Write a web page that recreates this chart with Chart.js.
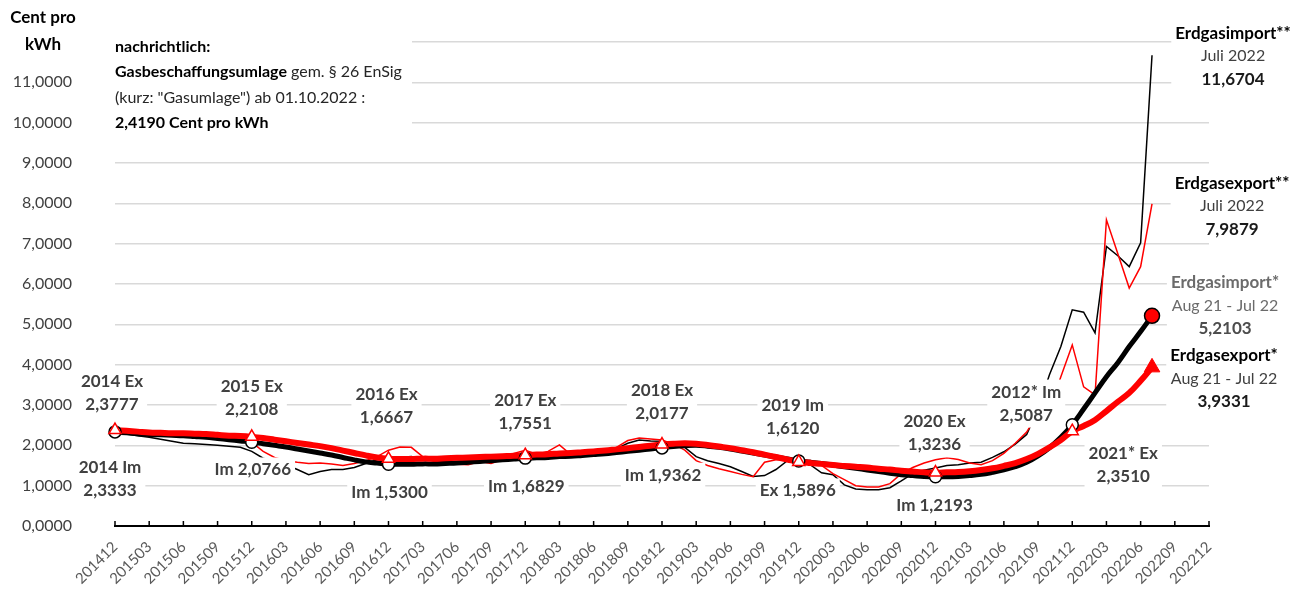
<!DOCTYPE html>
<html>
<head>
<meta charset="utf-8">
<script src="https://cdn.jsdelivr.net/npm/chart.js@4.4.1/dist/chart.umd.min.js"></script>
<style>
  html, body { margin: 0; padding: 0; background: #fff; }
  #wrap { width: 1308px; height: 597px; position: relative; }
</style>
</head>
<body>
<div id="wrap"><canvas id="gasChart"></canvas></div>
<script>
const FONT = 'Lato, "Open Sans", sans-serif';

// x-Achse: Monate 201412 ... 202212
const monthLabels = [
  '201412',
  '201501', '201502', '201503', '201504', '201505', '201506', '201507', '201508', '201509', '201510', '201511', '201512',
  '201601', '201602', '201603', '201604', '201605', '201606', '201607', '201608', '201609', '201610', '201611', '201612',
  '201701', '201702', '201703', '201704', '201705', '201706', '201707', '201708', '201709', '201710', '201711', '201712',
  '201801', '201802', '201803', '201804', '201805', '201806', '201807', '201808', '201809', '201810', '201811', '201812',
  '201901', '201902', '201903', '201904', '201905', '201906', '201907', '201908', '201909', '201910', '201911', '201912',
  '202001', '202002', '202003', '202004', '202005', '202006', '202007', '202008', '202009', '202010', '202011', '202012',
  '202101', '202102', '202103', '202104', '202105', '202106', '202107', '202108', '202109', '202110', '202111', '202112',
  '202201', '202202', '202203', '202204', '202205', '202206', '202207', '202208', '202209', '202210', '202211', '202212',
];

// Monatswerte (Cent pro kWh), 201412 bis 202207
const importMonthly = [
  2.33, 2.28, 2.24, 2.20, 2.15, 2.10, 2.05, 2.04, 2.02, 2.00, 1.98, 1.95,
  1.85, 1.68, 1.60, 1.52, 1.40, 1.27, 1.35, 1.40, 1.40, 1.45, 1.55, 1.64,
  1.67, 1.70, 1.72, 1.66, 1.62, 1.60, 1.60, 1.62, 1.64, 1.62, 1.63, 1.64,
  1.66, 1.74, 1.81, 1.76, 1.72, 1.80, 1.88, 1.85, 1.92, 2.05, 2.13, 2.11,
  2.10, 2.06, 1.95, 1.72, 1.62, 1.55, 1.47, 1.35, 1.23, 1.25, 1.40, 1.62,
  1.60, 1.52, 1.32, 1.27, 1.02, 0.92, 0.90, 0.90, 0.95, 1.12, 1.30, 1.38,
  1.44, 1.50, 1.52, 1.56, 1.58, 1.70, 1.84, 2.03, 2.27, 2.90, 3.75, 4.45,
  5.36, 5.30, 4.79, 6.93, 6.70, 6.43, 7.02, 11.6704,
];
const exportMonthly = [
  2.38, 2.35, 2.33, 2.32, 2.30, 2.29, 2.28, 2.27, 2.25, 2.22, 2.18, 2.14,
  2.08, 1.85, 1.70, 1.62, 1.58, 1.55, 1.56, 1.54, 1.50, 1.55, 1.62, 1.72,
  1.88, 1.96, 1.95, 1.72, 1.60, 1.56, 1.53, 1.52, 1.60, 1.55, 1.65, 1.80,
  1.88, 1.78, 1.85, 2.01, 1.77, 1.85, 1.89, 1.85, 1.95, 2.12, 2.18, 2.16,
  2.13, 2.03, 1.88, 1.62, 1.50, 1.42, 1.35, 1.28, 1.22, 1.58, 1.64, 1.64,
  1.64, 1.63, 1.50, 1.30, 1.15, 1.00, 0.97, 0.97, 1.05, 1.30, 1.45, 1.56,
  1.64, 1.69, 1.65, 1.56, 1.52, 1.62, 1.80, 2.05, 2.33, 2.80, 2.90, 3.70,
  4.49, 3.45, 3.25, 7.59, 6.75, 5.90, 6.43, 7.9879,
];

// gleitende 12-Monats-Mittel
const import12m = [
  2.33, 2.31, 2.29, 2.27, 2.26, 2.25, 2.24, 2.22, 2.20, 2.17, 2.14, 2.11,
  2.08, 2.04, 2.00, 1.96, 1.91, 1.86, 1.81, 1.76, 1.70, 1.64, 1.59, 1.56,
  1.53, 1.53, 1.53, 1.54, 1.54, 1.55, 1.56, 1.58, 1.60, 1.62, 1.64, 1.66,
  1.68, 1.69, 1.70, 1.72, 1.73, 1.75, 1.77, 1.79, 1.82, 1.85, 1.88, 1.91,
  1.94, 1.97, 1.99, 2.00, 1.98, 1.95, 1.91, 1.86, 1.81, 1.76, 1.71, 1.66,
  1.61, 1.58, 1.55, 1.51, 1.47, 1.43, 1.39, 1.35, 1.31, 1.27, 1.25, 1.23,
  1.22, 1.22, 1.23, 1.25, 1.28, 1.33, 1.39, 1.47, 1.58, 1.74, 1.94, 2.20,
  2.51, 2.90, 3.30, 3.70, 4.05, 4.45, 4.82, 5.2103,
];
const export12m = [
  2.38, 2.36, 2.34, 2.32, 2.31, 2.30, 2.30, 2.29, 2.28, 2.26, 2.24, 2.23,
  2.21, 2.18, 2.14, 2.10, 2.06, 2.02, 1.98, 1.93, 1.87, 1.81, 1.75, 1.70,
  1.67, 1.66, 1.66, 1.67, 1.67, 1.68, 1.69, 1.70, 1.71, 1.72, 1.73, 1.74,
  1.76, 1.77, 1.78, 1.80, 1.81, 1.83, 1.85, 1.87, 1.90, 1.93, 1.96, 1.99,
  2.02, 2.04, 2.05, 2.04, 2.01, 1.97, 1.93, 1.88, 1.83, 1.77, 1.71, 1.65,
  1.59, 1.56, 1.54, 1.51, 1.49, 1.47, 1.45, 1.42, 1.40, 1.37, 1.35, 1.33,
  1.32, 1.33, 1.34, 1.36, 1.39, 1.43, 1.49, 1.56, 1.66, 1.79, 1.95, 2.13,
  2.35, 2.48, 2.63, 2.85, 3.08, 3.30, 3.60, 3.9331,
];

// Jahreswerte (markiert im Dezember)
const annualMonths = ['201412', '201512', '201612', '201712', '201812', '201912', '202012', '202112'];
const importAnnual = [2.3333, 2.0766, 1.5300, 1.6829, 1.9362, 1.6120, 1.2193, 2.5087];
const exportAnnual = [2.3777, 2.2108, 1.6667, 1.7551, 2.0177, 1.5896, 1.3236, 2.3510];
const lastMonth = ['202207'];
const importLast = [5.2103];
const exportLast = [3.9331];

const yTicks = [0, 1, 2, 3, 4, 5, 6, 7, 8, 9, 10, 11];

// Textstile
const ANN = { font: 'bold 17px ' + FONT, color: '#404040' };
const HEAD = { font: 'bold 17px ' + FONT, color: '#000000' };
const SUB = { font: '16px ' + FONT, color: '#404040' };
const VAL = { font: 'bold 17px ' + FONT, color: '#1a1a1a' };
const GHEAD = { font: 'bold 17px ' + FONT, color: '#6b6b6b' };
const GSUB = { font: '16px ' + FONT, color: '#6b6b6b' };
const GVAL = { font: 'bold 17px ' + FONT, color: '#4d4d4d' };

// Beschriftungen: Monat + Versatz (px), v = Höhe der ersten Zeile in Achsenwerten
const notes = [
  { at: '201412', dx: -3, v: 3.57, lines: [['2014 Ex', ANN], ['2,3777', ANN]] },
  { at: '201412', dx: -5, v: 1.44, lines: [['2014 Im', ANN], ['2,3333', ANN]] },
  { at: '201512', dx: 0, v: 3.47, lines: [['2015 Ex', ANN], ['2,2108', ANN]] },
  { at: '201512', dx: 1, v: 1.39, lines: [['Im 2,0766', ANN]] },
  { at: '201612', dx: -2, v: 3.25, lines: [['2016 Ex', ANN], ['1,6667', ANN]] },
  { at: '201612', dx: 1, v: 0.82, lines: [['Im 1,5300', ANN]] },
  { at: '201712', dx: 0, v: 3.12, lines: [['2017 Ex', ANN], ['1,7551', ANN]] },
  { at: '201712', dx: 1, v: 0.99, lines: [['Im 1,6829', ANN]] },
  { at: '201812', dx: 0, v: 3.37, lines: [['2018 Ex', ANN], ['2,0177', ANN]] },
  { at: '201812', dx: 1, v: 1.26, lines: [['Im 1,9362', ANN]] },
  { at: '201912', dx: -6, v: 2.98, lines: [['2019 Im', ANN], ['1,6120', ANN]] },
  { at: '201912', dx: -1, v: 0.87, lines: [['Ex 1,5896', ANN]] },
  { at: '202012', dx: -1, v: 2.58, lines: [['2020 Ex', ANN], ['1,3236', ANN]] },
  { at: '202012', dx: -1, v: 0.52, lines: [['Im 1,2193', ANN]] },
  { at: '202112', dx: -46, v: 3.32, lines: [['2012* Im', ANN], ['2,5087', ANN]] },
  { at: '202112', dx: 51, v: 1.79, lines: [['2021* Ex', ANN], ['2,3510', ANN]] },
  { at: '202207', dx: 81, v: 12.22, lines: [['Erdgasimport**', HEAD], ['Juli 2022', SUB], ['11,6704', VAL]] },
  { at: '202207', dx: 80, v: 8.50, lines: [['Erdgasexport**', HEAD], ['Juli 2022', SUB], ['7,9879', VAL]] },
  { at: '202207', dx: 73, v: 6.03, lines: [['Erdgasimport*', GHEAD], ['Aug 21 - Jul 22', GSUB], ['5,2103', GVAL]] },
  { at: '202207', dx: 72, v: 4.22, lines: [['Erdgasexport*', HEAD], ['Aug 21 - Jul 22', SUB], ['3,9331', VAL]] },
];

function points(months, values) {
  return months.map((m, i) => ({ x: m, y: values[i] }));
}

const notesPlugin = {
  id: 'notes',
  afterDatasetsDraw(chart) {
    const { ctx, scales: { x, y } } = chart;
    ctx.save();
    ctx.textBaseline = 'middle';

    // Achsentitel
    ctx.textAlign = 'center';
    ctx.fillStyle = '#000';
    ctx.font = 'bold 17px ' + FONT;
    ctx.fillText('Cent pro', 43, 18);
    ctx.fillText('kWh', 43, 45);

    // Hinweis Gasumlage
    ctx.fillStyle = '#fff';
    ctx.fillRect(x.left - 8, 28, 305, 110);
    ctx.textAlign = 'left';
    ctx.fillStyle = '#000';
    ctx.font = 'bold 16px ' + FONT;
    ctx.fillText('nachrichtlich:', x.left, 47);
    ctx.fillText('Gasbeschaffungsumlage', x.left, 72);
    const w = ctx.measureText('Gasbeschaffungsumlage').width;
    ctx.font = '16px ' + FONT;
    ctx.fillStyle = '#262626';
    ctx.fillText(' gem. § 26 EnSig', x.left + w, 72);
    ctx.fillText('(kurz: "Gasumlage") ab 01.10.2022 :', x.left, 98);
    ctx.font = 'bold 16px ' + FONT;
    ctx.fillStyle = '#000';
    ctx.fillText('2,4190 Cent pro kWh', x.left, 123);

    // Datenbeschriftungen
    const lh = 23;
    ctx.textAlign = 'center';
    notes.forEach(n => {
      const cx = x.getPixelForValue(monthLabels.indexOf(n.at)) + n.dx;
      const top = y.getPixelForValue(n.v);
      let maxW = 0;
      n.lines.forEach(([t, s]) => {
        ctx.font = s.font;
        maxW = Math.max(maxW, ctx.measureText(t).width);
      });
      ctx.fillStyle = '#fff';
      ctx.fillRect(cx - maxW / 2 - 4, top - lh / 2 - 1, maxW + 8, lh * n.lines.length + 2);
      n.lines.forEach(([t, s], i) => {
        ctx.font = s.font;
        ctx.fillStyle = s.color;
        ctx.fillText(t, cx, top + i * lh);
      });
    });
    ctx.restore();
  },
  afterDraw(chart) {
    // kleine Teilstriche nach innen
    const { ctx, scales: { x } } = chart;
    ctx.save();
    ctx.strokeStyle = '#000';
    ctx.lineWidth = 1.5;
    ctx.beginPath();
    for (let i = 0; i < monthLabels.length; i += 3) {
      const px = x.getPixelForValue(i);
      ctx.moveTo(px, x.top);
      ctx.lineTo(px, x.top - 5);
    }
    ctx.stroke();
    ctx.restore();
  },
};

const config = {
  type: 'line',
  data: {
    labels: monthLabels,
    datasets: [
      {
        label: 'Erdgasexport Jahr',
        data: points(annualMonths, exportAnnual),
        showLine: false,
        pointStyle: 'triangle',
        pointRadius: 7,
        pointBackgroundColor: '#fff',
        pointBorderColor: '#ff0000',
        pointBorderWidth: 1.5,
        order: 0,
      },
      {
        label: 'Erdgasimport Jahr',
        data: points(annualMonths, importAnnual),
        showLine: false,
        pointStyle: 'circle',
        pointRadius: 6,
        pointBackgroundColor: '#fff',
        pointBorderColor: '#000',
        pointBorderWidth: 1.5,
        order: 1,
      },
      {
        label: 'Erdgasexport* letzt',
        data: points(lastMonth, exportLast),
        showLine: false,
        pointStyle: 'triangle',
        pointRadius: 9,
        pointBackgroundColor: '#ff0000',
        pointBorderColor: '#ff0000',
        pointBorderWidth: 1,
        order: 0,
      },
      {
        label: 'Erdgasimport* letzt',
        data: points(lastMonth, importLast),
        showLine: false,
        pointStyle: 'circle',
        pointRadius: 7.5,
        pointBackgroundColor: '#ff0000',
        pointBorderColor: '#000',
        pointBorderWidth: 1.5,
        order: 0,
      },
      {
        label: 'Erdgasexport* 12 Monate',
        data: export12m,
        borderColor: '#ff0000',
        borderWidth: 6,
        pointRadius: 0,
        tension: 0.4,
        order: 2,
      },
      {
        label: 'Erdgasimport* 12 Monate',
        data: import12m,
        borderColor: '#000',
        borderWidth: 5,
        pointRadius: 0,
        tension: 0.4,
        order: 3,
      },
      {
        label: 'Erdgasexport**',
        data: exportMonthly,
        borderColor: '#ff0000',
        borderWidth: 1.5,
        pointRadius: 0,
        tension: 0,
        order: 4,
      },
      {
        label: 'Erdgasimport**',
        data: importMonthly,
        borderColor: '#000',
        borderWidth: 1.5,
        pointRadius: 0,
        tension: 0,
        order: 5,
      },
    ],
  },
  options: {
    responsive: true,
    maintainAspectRatio: false,
    animation: false,
    devicePixelRatio: 1,
    layout: { padding: { top: 42, right: 99, bottom: 0, left: 0 } },
    plugins: {
      legend: { display: false },
      tooltip: { enabled: false },
    },
    scales: {
      x: {
        type: 'category',
        offset: false,
        grid: { display: false },
        border: { display: true, color: '#000', width: 2 },
        ticks: {
          autoSkip: false,
          minRotation: 45,
          maxRotation: 45,
          padding: 4,
          color: '#595959',
          font: { family: FONT, size: 15 },
          callback: (v, i) => (i % 3 === 0 ? monthLabels[i] : ''),
        },
        afterFit: s => { s.height = 71; },
      },
      y: {
        min: 0,
        max: 12,
        afterBuildTicks: s => { s.ticks = yTicks.concat([12]).map(v => ({ value: v })); },
        ticks: {
          padding: 43,
          color: '#404040',
          font: { family: FONT, size: 16 },
          callback: v => (yTicks.includes(v) ? v.toFixed(4).replace('.', ',') : ''),
        },
        grid: { color: '#d9d9d9', lineWidth: 1.5, drawTicks: false },
        border: { display: false },
        afterFit: s => {
          s.width = 115;
          s.paddingTop = 0;
          s.paddingBottom = 0;
        },
      },
    },
  },
  plugins: [notesPlugin],
};

new Chart(document.getElementById('gasChart').getContext('2d'), config);
</script>
</body>
</html>
